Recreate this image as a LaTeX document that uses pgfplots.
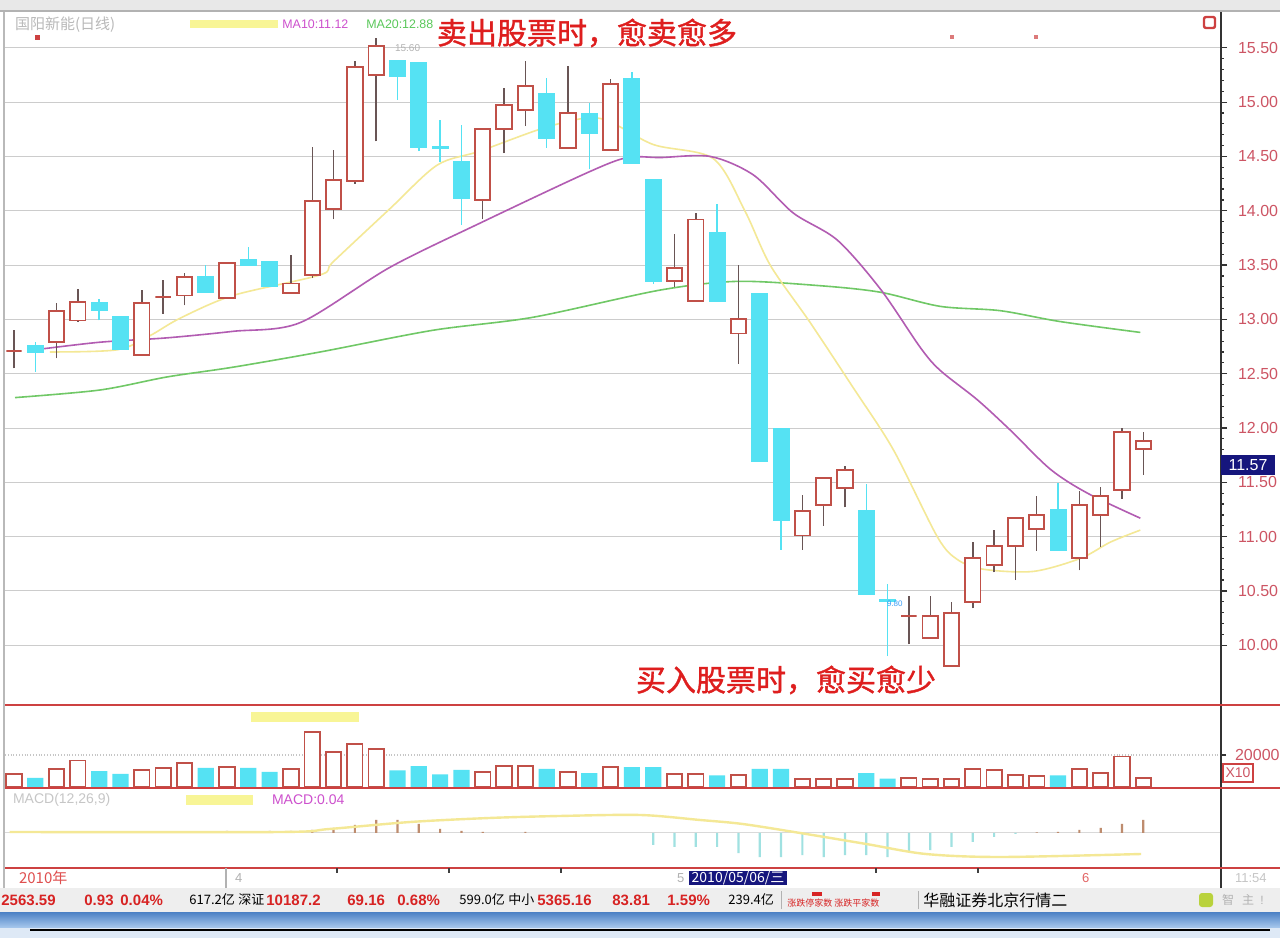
\documentclass[border=0pt]{standalone}
\usepackage{pgfplots}
\pgfplotsset{compat=1.18}
\usepackage{pgfplotstable}
\usepackage{fontspec}
\setmainfont{Liberation Sans}
\newfontfamily\cjk{Noto Sans CJK SC}
\newfontfamily\cjkb[FakeBold=1.2]{Noto Sans CJK SC}

\definecolor{upred}{RGB}{192,80,72}
\definecolor{wick}{RGB}{105,85,85}
\definecolor{downcyan}{RGB}{85,226,243}
\definecolor{ma5}{RGB}{244,232,150}
\definecolor{ma10}{RGB}{178,92,178}
\definecolor{ma20}{RGB}{112,200,102}
\definecolor{ticklab}{RGB}{205,85,100}
\definecolor{panelred}{RGB}{205,65,65}
\definecolor{navybox}{RGB}{22,22,125}
\definecolor{statred}{RGB}{215,35,35}
\definecolor{statbg}{RGB}{238,238,238}
\definecolor{macdpos}{RGB}{190,140,110}
\definecolor{macdneg}{RGB}{160,225,225}
\definecolor{tbtop}{RGB}{75,128,196}
\definecolor{tbbot}{RGB}{170,202,238}
\definecolor{tblow}{RGB}{222,233,246}
\definecolor{chip}{RGB}{248,245,150}
\definecolor{magtext}{RGB}{205,80,205}
\definecolor{grntext}{RGB}{90,200,90}
\definecolor{bigred}{RGB}{222,30,30}
\definecolor{iconlime}{RGB}{185,210,60}

\newcommand\fs[1]{\fontsize{#1}{#1}\selectfont}

% price candles: i open high low close
\pgfplotstableread{
i open high low close
1 12.71 12.90 12.55 12.71
3 12.79 13.15 12.64 13.08
4 12.99 13.28 12.98 13.16
7 12.67 13.27 12.67 13.15
8 13.21 13.36 13.05 13.21
9 13.22 13.43 13.13 13.39
11 13.20 13.52 13.20 13.52
14 13.24 13.59 13.24 13.33
15 13.41 14.59 13.38 14.09
16 14.02 14.56 13.92 14.28
17 14.27 15.38 14.25 15.32
18 15.25 15.59 14.64 15.52
23 14.10 14.75 13.92 14.75
24 14.75 15.13 14.53 14.97
25 14.93 15.38 14.78 15.15
27 14.58 15.33 14.58 14.90
29 14.56 15.21 14.56 15.17
32 13.35 13.79 13.30 13.47
33 13.17 13.98 13.17 13.92
35 12.87 13.50 12.59 13.00
38 11.01 11.38 10.88 11.24
39 11.29 11.54 11.10 11.54
40 11.45 11.65 11.27 11.61
43 10.27 10.45 10.01 10.27
44 10.07 10.45 10.07 10.27
45 9.81 10.40 9.81 10.30
46 10.40 10.95 10.34 10.80
47 10.74 11.06 10.67 10.91
48 10.91 11.17 10.60 11.17
49 11.07 11.37 10.87 11.20
51 10.80 11.42 10.69 11.29
52 11.20 11.46 10.90 11.37
53 11.43 12.00 11.35 11.96
54 11.81 11.96 11.57 11.88
}\tabup

\pgfplotstableread{
i open high low close
2 12.76 12.79 12.52 12.70
5 13.15 13.19 12.99 13.08
6 13.03 13.03 12.72 12.72
10 13.39 13.50 13.25 13.25
12 13.55 13.67 13.50 13.50
13 13.53 13.53 13.30 13.30
19 15.38 15.38 15.02 15.24
20 15.36 15.36 14.55 14.58
21 14.59 14.84 14.45 14.57
22 14.45 14.79 13.87 14.11
26 15.08 15.22 14.58 14.67
28 14.89 14.99 14.38 14.71
30 15.22 15.28 14.44 14.44
31 14.29 14.29 13.33 13.35
34 13.80 14.06 13.17 13.17
36 13.24 13.24 11.69 11.69
37 11.99 11.99 10.88 11.15
41 11.24 11.48 10.47 10.47
42 10.42 10.56 9.90 10.40
50 11.25 11.49 10.87 10.87
}\tabdown

% volume
\pgfplotstableread{
i v
1 8300
3 11400
4 16600
7 10400
8 11900
9 15000
11 12500
14 11400
15 34300
16 21800
17 27000
18 23900
23 9400
24 13100
25 13100
27 9400
29 12500
32 8300
33 8300
35 7300
38 5200
39 5200
40 5200
43 5800
44 5200
45 5200
46 11400
47 10400
48 7300
49 6700
51 11400
52 8700
53 19100
54 5800
}\volup

\pgfplotstableread{
i v
2 5800
5 10000
6 8300
10 11900
12 11900
13 9400
19 10400
20 13100
21 7900
22 10800
26 11400
28 8700
30 12500
31 12500
34 7300
36 11400
37 11400
41 8700
42 5200
50 7300
}\voldown

% macd histogram
\pgfplotstableread{
i m
5 1
6 0.5
7 0.5
8 1
9 1.5
10 1
11 2
12 1
13 2
14 2
15 3
16 5
17 8
18 13
19 13
20 9
21 4
22 2
23 1
25 1
49 0.5
50 1
51 3
52 5
53 9
54 13
}\macdup

\pgfplotstableread{
i m
31 -12
32 -14
33 -14
34 -14
35 -20
36 -24
37 -24
38 -22
39 -24
40 -22
41 -22
42 -24
43 -19
44 -17
45 -14
46 -9
47 -4
48 -1
}\macddown

\pgfdeclareplotmark{blank}{}
\pgfplotsset{
  candle/.style={only marks, mark=blank, scatter,
    visualization depends on={\thisrow{open}\as\vo},
    visualization depends on={\thisrow{high}\as\vh},
    visualization depends on={\thisrow{low}\as\vl},
    visualization depends on={\thisrow{close}\as\vc},
    scatter/@post marker code/.code={}},
  upcandle/.style={candle,
    scatter/@pre marker code/.code={%
      \draw[wick,line width=0.7pt] (axis direction cs:0,0) -- (axis direction cs:0,{\vh-\vl});
      \draw[upred,fill=white,line width=0.95pt]
        (axis direction cs:-0.36,{\vo-\vl}) rectangle (axis direction cs:0.36,{\vc-\vl});}},
  downcandle/.style={candle,
    scatter/@pre marker code/.code={%
      \draw[downcyan,line width=0.7pt] (axis direction cs:0,0) -- (axis direction cs:0,{\vh-\vl});
      \draw[downcyan,fill=downcyan,line width=0.6pt]
        (axis direction cs:-0.37,{\vo-\vl}) rectangle (axis direction cs:0.37,{\vc-\vl});}},
  panel/.style={anchor=south west, scale only axis, width=607.5pt,
    xmin=0.58, xmax=57.6, axis line style={draw=none}, xtick=\empty},
}

\begin{document}
\begin{tikzpicture}
\useasboundingbox (0,0) rectangle (640pt,469pt);

% backgrounds, 1 unit = 1 px of the screenshot, y upwards
\begin{scope}[x=0.5pt,y=0.5pt]
  \fill[white] (0,0) rectangle (1280,938);
  \fill[gray!18] (0,926) rectangle (1280,938);
  \draw[gray!60,line width=1pt] (0,926.5) -- (1280,926.5);
  \fill[statbg] (0,26) rectangle (1280,50);
  \shade[top color=tbtop,bottom color=tbbot] (0,10) rectangle (1280,26);
  \fill[tblow] (0,0) rectangle (1280,10);
  \draw[black,line width=1.3pt] (30,8) -- (1270,8);
  \fill[chip] (190,910) rectangle (278,918);
  \fill[chip] (251,216) rectangle (359,226);
  \fill[chip] (186,133) rectangle (253,143);
\end{scope}

% price panel
\begin{axis}[panel, at={(2.5pt,116.5pt)}, height=346.5pt,
  ymin=9.45, ymax=15.83,
  ytick={10,10.5,11,11.5,12,12.5,13,13.5,14,14.5,15,15.5},
  minor y tick num=4,
  ytick pos=right, yticklabel pos=right, tick align=outside,
  major tick length=3.5pt, minor tick length=1.8pt,
  tick style={gray!40!black, line width=0.6pt},
  ymajorgrids, grid style={gray!40, line width=0.5pt},
  yticklabel style={font=\fs{8}, text=ticklab, xshift=2pt,
    /pgf/number format/fixed, /pgf/number format/fixed zerofill,
    /pgf/number format/precision=2, /pgf/number format/assume math mode=true},
  clip=true]
\addplot[ma20, line width=0.8pt, smooth] coordinates {
 (1.05,12.28) (5.04,12.35) (8.18,12.47) (11.28,12.56) (15.37,12.70) (20.67,12.90)
 (25.37,13.02) (31.33,13.27) (34.94,13.35) (38.84,13.31) (41.66,13.25) (44.47,13.12)
 (47.29,13.08) (50.1,12.98) (53.86,12.88)};
\addplot[ma5, line width=0.8pt, smooth] coordinates {
 (2.69,12.70) (5.84,12.72) (7.38,12.85) (8.79,13.01) (11.28,13.22) (15.37,13.41)
 (15.98,13.53) (18.65,14.02) (20.86,14.42) (22.88,14.55) (26.16,14.78) (28.51,14.85)
 (31.0,14.61) (33.82,14.48) (35.3,14.0) (36.49,13.50) (38.37,12.97) (40.39,12.37)
 (42.27,11.80) (44.33,11.00) (45.27,10.79) (46.49,10.70) (48.84,10.68) (51.05,10.80)
 (52.46,10.95) (53.86,11.06)};
\addplot[ma10, line width=0.8pt, smooth] coordinates {
 (1.99,12.72) (5.04,12.79) (8.18,12.83) (11.28,12.89) (14.43,12.97)
 (18.65,13.48) (23.02,13.90) (27.9,14.35) (29.78,14.49) (31.33,14.49)
 (33.68,14.50) (35.7,14.33) (37.57,13.98) (39.64,13.73) (41.66,13.28) (43.54,12.74)
 (44.47,12.53) (46.21,12.26) (47.76,11.98) (49.64,11.62) (51.38,11.40) (53.86,11.17)};
\addplot[downcandle] table[x=i,y=low] {\tabdown};
\addplot[upcandle] table[x=i,y=low] {\tabup};
\end{axis}

% volume panel
\begin{axis}[panel, at={(2.5pt,75pt)}, height=41.5pt,
  ymin=-600, ymax=51250, ytick={20000}, yticklabels={20000}, scaled y ticks=false,
  ytick pos=right, yticklabel pos=right, tick align=outside,
  major tick length=3pt, tick style={gray!40!black, line width=0.6pt},
  ymajorgrids, grid style={gray!45, densely dotted, line width=0.6pt},
  yticklabel style={font=\fs{8}, text=ticklab, xshift=1pt}]
\addplot[ybar, bar width=0.76, bar shift=0pt, draw=none, fill=downcyan] table[x=i,y=v] {\voldown};
\addplot[ybar, bar width=0.72, bar shift=0pt, draw=upred, fill=white, line width=0.9pt] table[x=i,y=v] {\volup};
\end{axis}

% macd panel
\begin{axis}[panel, at={(2.5pt,35pt)}, height=40pt, ymin=-35, ymax=45, ytick=\empty]
\addplot[gray!30, line width=0.5pt] coordinates {(0.58,0) (57.6,0)};
\addplot[ybar, bar width=1.1pt, bar shift=0pt, draw=none, fill=macdpos] table[x=i,y=m] {\macdup};
\addplot[ybar, bar width=1.1pt, bar shift=0pt, draw=none, fill=macdneg] table[x=i,y=m] {\macddown};
\addplot[ma5, line width=1.2pt, smooth] coordinates {
 (0.8,1) (13.5,1) (15.8,4) (19.6,11) (23.3,15) (26.6,17) (30.4,18) (33.2,13) (35.2,9)
 (37.9,0) (41.0,-11) (43.8,-21) (47.3,-24) (53.9,-21)};
\end{axis}

% frame, separators and texts
\begin{scope}[x=0.5pt,y=0.5pt]
  \draw[gray!55,line width=1pt] (4,50) -- (4,926);
  \draw[gray!40!black,line width=1pt] (1221,50) -- (1221,926);
  \draw[panelred,line width=1pt] (5,233) -- (1280,233);
  \draw[panelred,line width=1.4pt] (5,150) -- (1280,150);
  \draw[panelred,line width=1.4pt] (5,70) -- (1280,70);
  \draw[gray!60,line width=0.8pt] (226,50) -- (226,70);
  \foreach \t in {337,449,561,876,978} \draw[gray!50!black,line width=0.8pt] (\t,70) -- (\t,65);
  % header
  \node[anchor=west,font=\cjk\fs{7.5},text=gray!55] at (8,913) {国阳新能(日线)};
  \node[anchor=west,font=\fs{6.2},text=magtext,inner sep=0pt] at (282,914) {MA10:11.12};
  \node[anchor=west,font=\fs{6.2},text=grntext,inner sep=0pt] at (366,914) {MA20:12.88};
  \fill[panelred] (35,898) rectangle (40,903);
  \fill[panelred!70] (950,899) rectangle (954,903);
  \fill[panelred!70] (1034,899) rectangle (1038,903);
  \draw[panelred,line width=1.2pt,rounded corners=1pt] (1204,910) rectangle (1215,921);
  \node[anchor=west,font=\fs{5},text=gray!60] at (388,890) {15.60};
  \node[anchor=west,font=\fs{4},text=downcyan!70!blue] at (880,334) {9.80};
  \node[font=\cjkb\fs{15}, text=bigred] at (587,905) {卖出股票时，愈卖愈多};
  \node[font=\cjkb\fs{15}, text=bigred] at (786,258) {买入股票时，愈买愈少};
  % last price box
  \fill[navybox] (1221,463) rectangle (1275,483);
  \node[font=\fs{8},text=white] at (1248,473) {11.57};
  % volume unit box
  \draw[panelred,line width=0.8pt] (1223,156) rectangle (1253,174);
  \node[font=\fs{7},text=ticklab] at (1238,165) {X10};
  % macd header
  \node[anchor=west,font=\fs{7},text=gray!45] at (6,138) {MACD(12,26,9)};
  \node[anchor=west,font=\fs{7},text=magtext] at (265,138) {MACD:0.04};
  % date bar
  \node[anchor=west,font=\cjk\fs{7.5},text=statred!80] at (12,60) {2010年};
  \node[anchor=west,font=\fs{6.5},text=gray!60] at (228,60) {4};
  \node[anchor=west,font=\fs{6.5},text=gray!60] at (670,60) {5};
  \fill[navybox] (689,53) rectangle (787,67);
  \node[font=\cjk\fs{7},text=white] at (738,60) {2010/05/06/三};
  \node[anchor=west,font=\fs{6.5},text=statred!70] at (1075,60) {6};
  \node[anchor=west,font=\fs{6.5},text=gray!45] at (1228,60) {11:54};
  % status bar
  \begin{scope}[every node/.style={anchor=west,inner sep=0pt}]
    \node[font=\bfseries\fs{7.5},text=statred] at (1,38) {2563.59};
    \node[font=\bfseries\fs{7.5},text=statred] at (84,38) {0.93};
    \node[font=\bfseries\fs{7.5},text=statred] at (120,38) {0.04\%};
    \node[font=\cjk\fs{6.5}] at (189,38) {617.2亿};
    \node[font=\cjk\fs{6.5}] at (238,38) {深证};
    \node[font=\bfseries\fs{7.5},text=statred] at (266,38) {10187.2};
    \node[font=\bfseries\fs{7.5},text=statred] at (347,38) {69.16};
    \node[font=\bfseries\fs{7.5},text=statred] at (397,38) {0.68\%};
    \node[font=\cjk\fs{6.5}] at (459,38) {599.0亿};
    \node[font=\cjk\fs{6.5}] at (508,38) {中小};
    \node[font=\bfseries\fs{7.5},text=statred] at (537,38) {5365.16};
    \node[font=\bfseries\fs{7.5},text=statred] at (612,38) {83.81};
    \node[font=\bfseries\fs{7.5},text=statred] at (667,38) {1.59\%};
    \node[font=\cjk\fs{6.5}] at (728,38) {239.4亿};
    \node[font=\cjk\fs{4.5},text=statred] at (787,35) {涨跌停家数 涨跌平家数};
    \node[font=\cjk\fs{8}] at (923,38) {华融证券北京行情二};
  \end{scope}
  \draw[gray!60] (781,29) -- (781,47);
  \draw[gray!60] (918,29) -- (918,47);
  \fill[statred] (812,42) rectangle (822,46);
  \fill[statred] (872,42) rectangle (880,46);
  \fill[iconlime,rounded corners=1.5pt] (1199,31) rectangle (1213,45);
  \node[font=\cjk\fs{6},text=gray!60] at (1228,38) {智};
  \node[font=\cjk\fs{6},text=gray!60] at (1248,38) {主};
  \node[font=\fs{6},text=gray!60] at (1262,38) {!};
\end{scope}
\end{tikzpicture}
\end{document}
